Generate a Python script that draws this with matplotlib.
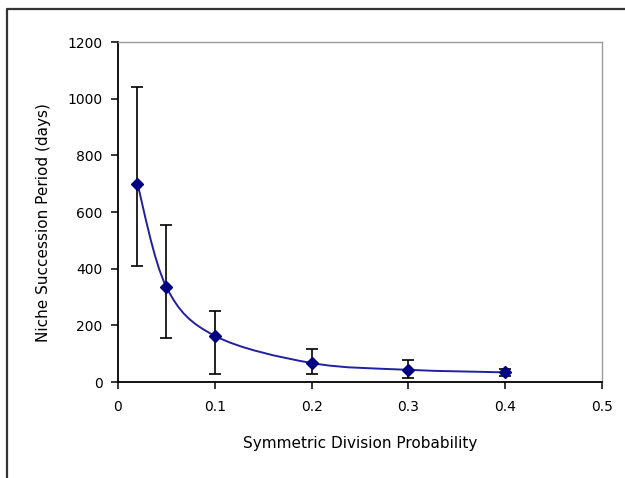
import matplotlib
matplotlib.use("Agg")
import matplotlib.pyplot as plt
import numpy as np
from matplotlib.path import Path
from matplotlib.patches import PathPatch
from matplotlib.lines import Line2D

# Data
prob = [0.02, 0.05, 0.1, 0.2, 0.3, 0.4]
period = [700, 335, 163, 67, 43, 34]
err_low = [410, 155, 28, 27, 14, 22]
err_high = [1040, 555, 250, 118, 76, 47]
xticks = [0, 0.1, 0.2, 0.3, 0.4, 0.5]
xticklabels = ["0", "0.1", "0.2", "0.3", "0.4", "0.5"]
yticks = [0, 200, 400, 600, 800, 1000, 1200]

plt.rcParams['font.family'] = ['DejaVu Sans']

fig = plt.figure(figsize=(6.25, 4.78), dpi=100)
ax = fig.add_axes([118/625, 1 - 382/478, (602-118)/625, (382-42)/478])

x = np.array(prob, dtype=float)
y = np.array(period, dtype=float)

# Smoothed line (Excel-style Bezier smoothing through the data points)
pts = np.column_stack([x, y])
verts = [tuple(pts[0])]
codes = [Path.MOVETO]
n = len(pts)
for i in range(n - 1):
    p0 = pts[i - 1] if i > 0 else pts[i]
    p1 = pts[i]
    p2 = pts[i + 1]
    p3 = pts[i + 2] if i + 2 < n else pts[i + 1]
    c1 = p1 + (p2 - p0) / 6.0
    c2 = p2 - (p3 - p1) / 6.0
    verts += [tuple(c1), tuple(c2), tuple(p2)]
    codes += [Path.CURVE4] * 3
ax.add_patch(PathPatch(Path(verts, codes), facecolor='none',
                       edgecolor='#2020a0', lw=1.4, zorder=3))

lo = y - np.array(err_low)
hi = np.array(err_high) - y
ax.errorbar(x, y, yerr=[lo, hi], fmt='none', ecolor='black',
            elinewidth=1.2, capsize=4.5, capthick=1.2, zorder=2)
ax.plot(x, y, linestyle='none', marker='D', markersize=6,
        color='#000080', zorder=4)

ax.set_xlim(0, 0.5)
ax.set_ylim(0, 1200)
ax.set_xticks(xticks)
ax.set_xticklabels(xticklabels)
ax.set_yticks(yticks)
ax.tick_params(axis='both', direction='out', length=5, width=1.1,
               labelsize=10, color='black')
ax.tick_params(axis='x', pad=8)
ax.tick_params(axis='y', pad=6)

for s in ['left', 'bottom']:
    ax.spines[s].set_color('black')
    ax.spines[s].set_linewidth(1.3)
for s in ['top', 'right']:
    ax.spines[s].set_color('#999999')
    ax.spines[s].set_linewidth(1.0)

ax.set_xlabel("Symmetric Division Probability", fontsize=11)
ax.set_ylabel("Niche Succession Period (days)", fontsize=11)
ax.xaxis.set_label_coords(0.5, -54/340)
ax.yaxis.set_label_coords(-67/484, 0.47)

# Outer chart border (left and top visible)
fig.add_artist(Line2D([7/625, 7/625, 1.0], [0.0, 1 - 9/478, 1 - 9/478],
                      transform=fig.transFigure, color='#333333', lw=1.6))

fig.savefig("out.png", dpi=100)
